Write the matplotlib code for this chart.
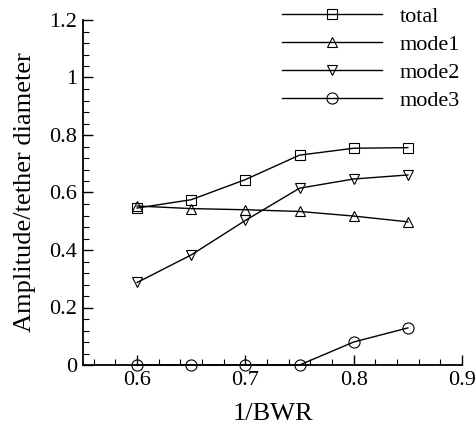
import matplotlib
matplotlib.use("Agg")
import matplotlib.pyplot as plt
from matplotlib.ticker import MultipleLocator

# values
bwr_inv = [0.6, 0.65, 0.7, 0.75, 0.8, 0.85]
total = [0.546, 0.575, 0.645, 0.730, 0.754, 0.756]
mode1 = [0.553, 0.544, 0.540, 0.534, 0.518, 0.498]
mode2 = [0.287, 0.383, 0.503, 0.615, 0.647, 0.661]
mode3 = [0.0, 0.0, 0.0, 0.0, 0.080, 0.129]
series_names = ["total", "mode1", "mode2", "mode3"]
series_markers = ["s", "^", "v", "o"]
marker_sizes = [6.5, 7.5, 7.5, 8]

plt.rcParams['font.family'] = ['Liberation Serif', 'DejaVu Serif']

fig = plt.figure(figsize=(4.77, 4.29), dpi=100)
ax = fig.add_axes([83 / 477, (429 - 365) / 429, (462 - 83) / 477, (365 - 20) / 429])

for vals, name, mk, ms in zip([total, mode1, mode2, mode3], series_names, series_markers, marker_sizes):
    ax.plot(bwr_inv, vals, color='black', lw=1.0, marker=mk, ms=ms,
            mfc='none', mec='black', mew=0.8, label=name, clip_on=False, zorder=3)

ax.set_xlim(0.55, 0.9)
ax.set_ylim(0, 1.2)
ax.xaxis.set_major_locator(MultipleLocator(0.1))
ax.xaxis.set_minor_locator(MultipleLocator(0.02))
ax.yaxis.set_major_locator(MultipleLocator(0.2))
ax.yaxis.set_minor_locator(MultipleLocator(0.04))

ax.spines['top'].set_visible(False)
ax.spines['right'].set_visible(False)
ax.spines['left'].set_linewidth(1.3)
ax.spines['bottom'].set_linewidth(1.3)
ax.tick_params(which='major', direction='in', length=7, width=1.0, labelsize=16, pad=4)
ax.tick_params(which='minor', direction='in', length=4, width=0.8)

def fmt(v, pos):
    s = f"{v:.1f}"
    return s[:-2] if s.endswith(".0") else s

ax.xaxis.set_major_formatter(fmt)
ax.yaxis.set_major_formatter(fmt)
ax.set_xticks([0.6, 0.7, 0.8, 0.9])

ax.set_xlabel("1/BWR", fontsize=19, labelpad=10)
ax.set_ylabel("Amplitude/tether diameter", fontsize=19, labelpad=10)

leg = ax.legend(loc='upper right', bbox_to_anchor=(1.018, 1.065), frameon=False, fontsize=16,
                handlelength=4.5, handletextpad=0.8, labelspacing=0.33, borderaxespad=0)

fig.savefig("out.png", dpi=100)
